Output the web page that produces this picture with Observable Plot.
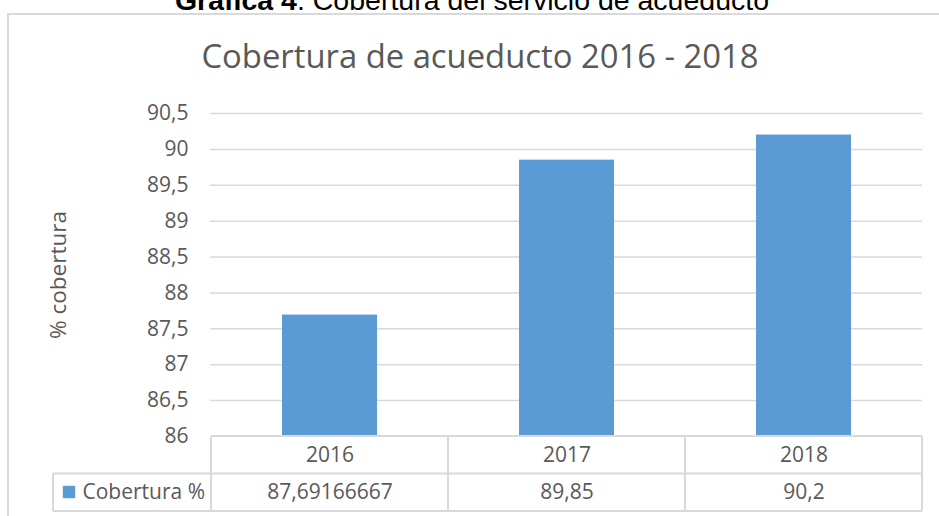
<!DOCTYPE html>
<html>
<head>
<meta charset="utf-8">
<script src="https://cdn.jsdelivr.net/npm/d3@7"></script>
<script src="https://cdn.jsdelivr.net/npm/@observablehq/plot@0.6"></script>
<style>
  html, body { margin: 0; padding: 0; background: #fff; overflow: hidden; }
  body { width: 939px; height: 516px; position: relative; font-family: "Open Sans", sans-serif; }
  #frame { position: absolute; left: 7px; top: 13px; width: 980px; height: 560px; border: 2px solid #d9d9d9; box-sizing: border-box; }
  #caption { position: absolute; top: -14px; left: 0; width: 944px; text-align: center; font-family: "Liberation Sans", Arial, sans-serif; font-size: 28.5px; line-height: 28.5px; color: #000; white-space: nowrap; }
  #caption b { font-weight: bold; }
  #title { position: absolute; top: 40px; left: 0; width: 960px; text-align: center; font-family: "Open Sans", sans-serif; font-size: 32.8px; line-height: 32.8px; color: #595959; white-space: nowrap; }
  #chart { position: absolute; left: 0; top: 0; }
</style>
</head>
<body>
<div id="frame"></div>
<div id="chart"></div>
<div id="caption"></div>
<div id="title"></div>
<script>
// ---- data ----
const captionBold = "Gráfica 4";
const captionRest = ". Cobertura del servicio de acueducto";
const chartTitle = "Cobertura de acueducto 2016 - 2018";
const yLabel = "% cobertura";
const seriesName = "Cobertura %";
const years = ["2016", "2017", "2018"];
const coverage = [87.69166667, 89.85, 90.2];
const valueLabels = ["87,69166667", "89,85", "90,2"];
const yTicks = [86, 86.5, 87, 87.5, 88, 88.5, 89, 89.5, 90, 90.5];

// ---- text ----
const cap = document.getElementById("caption");
const b = document.createElement("b");
b.textContent = captionBold;
cap.appendChild(b);
cap.appendChild(document.createTextNode(captionRest));
document.getElementById("title").textContent = chartTitle;

const data = years.map((year, i) => ({year, value: coverage[i], label: valueLabels[i]}));
const fmt = d => String(d).replace(".", ",");
const gridColor = "#d9d9d9";
const barColor = "#5b9bd5";
const rowH = 37.5;
const legendLeft = 53;

// data table drawn from the band scale
function tableMark(index, scales, values, dimensions) {
  const {width, height, marginLeft, marginRight, marginBottom} = dimensions;
  const x = scales.x;
  let edges;
  if (x && typeof x.step === "function") {
    const step = x.step(), bw = x.bandwidth(), pad = (step - bw) / 2;
    edges = years.map(y => x(y) - pad);
    edges.push(x(years[years.length - 1]) + bw + pad);
  } else {
    const step = (width - marginLeft - marginRight) / years.length;
    edges = d3.range(years.length + 1).map(i => marginLeft + i * step);
  }
  const y0 = height - marginBottom;
  const left = edges[0], right = edges[edges.length - 1];
  const g = d3.create("svg:g")
    .attr("stroke", gridColor).attr("stroke-width", 2).attr("fill", "none");
  const line = (x1, y1, x2, y2) => g.append("line")
    .attr("x1", x1).attr("y1", y1).attr("x2", x2).attr("y2", y2);
  line(left, y0, right, y0);
  line(legendLeft, y0 + rowH, right, y0 + rowH);
  line(legendLeft, y0 + 2 * rowH, right, y0 + 2 * rowH);
  line(legendLeft, y0 + rowH, legendLeft, y0 + 2 * rowH);
  for (const e of edges) line(e, y0, e, y0 + 2 * rowH);
  return g.node();
}

const plot = Plot.plot({
  width: 939,
  height: 516,
  marginLeft: 210,
  marginRight: 17,
  marginTop: 113,
  marginBottom: 80,
  style: {fontFamily: "'Open Sans', sans-serif", fontSize: "21px", color: "#595959", background: "transparent", overflow: "visible"},
  x: {domain: years, paddingInner: 0.6, paddingOuter: 0.3, axis: null},
  y: {domain: [86, 90.5], ticks: yTicks, tickFormat: fmt, tickSize: 0, tickPadding: 22, label: null},
  marks: [
    Plot.ruleY(yTicks.filter(t => t > 86), {stroke: gridColor, strokeWidth: 1.5}),
    Plot.barY(data, {x: "year", y1: () => 86, y2: "value", fill: barColor}),
    tableMark,
    Plot.text(data, {x: "year", text: "year", frameAnchor: "bottom", lineAnchor: "middle", dy: 18.5, fill: "#595959"}),
    Plot.text(data, {x: "year", text: "label", frameAnchor: "bottom", lineAnchor: "middle", dy: 56, fill: "#595959"}),
    Plot.dot([seriesName], {frameAnchor: "bottom-left", dx: -141.5, dy: 55.5, symbol: "square", r: 7, fill: barColor, stroke: null}),
    Plot.text([seriesName], {frameAnchor: "bottom-left", dx: -128, dy: 56, text: d => d, textAnchor: "start", lineAnchor: "middle", fill: "#595959"}),
    Plot.text([yLabel], {frameAnchor: "left", dx: -152, rotate: -90, text: d => d, textAnchor: "middle", lineAnchor: "middle", fontSize: 22.5, fill: "#595959"})
  ]
});
document.getElementById("chart").appendChild(plot);
</script>
</body>
</html>
